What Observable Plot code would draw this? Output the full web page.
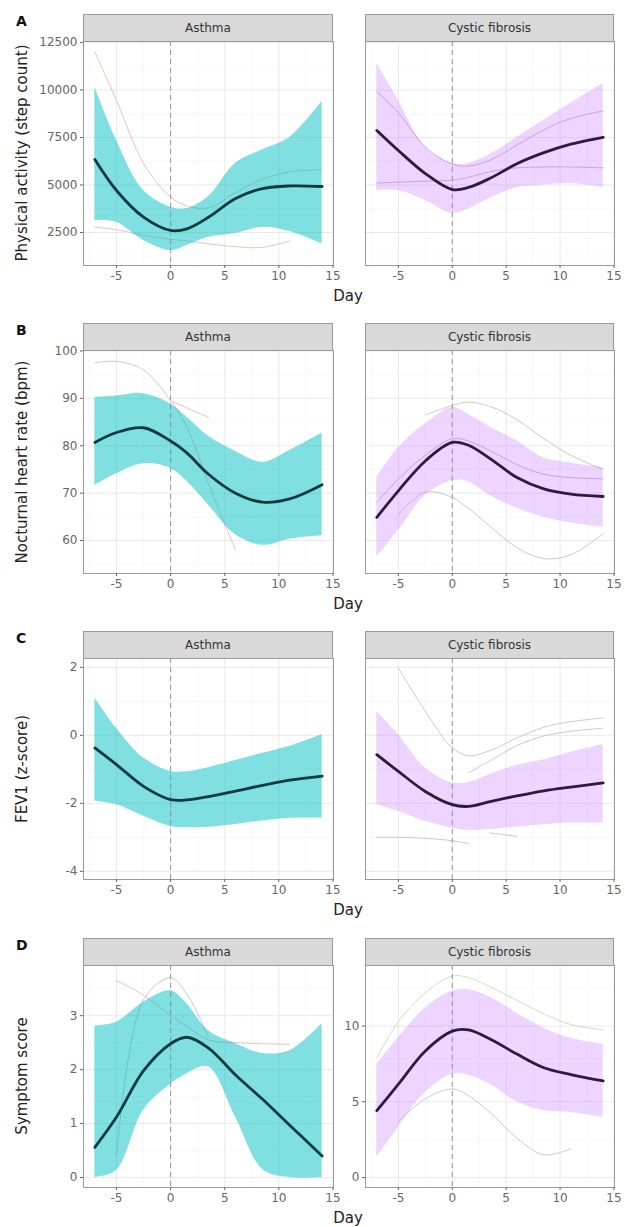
<!DOCTYPE html>
<html><head><meta charset="utf-8">
<script src="https://cdn.jsdelivr.net/npm/d3@7"></script>
<script src="https://cdn.jsdelivr.net/npm/@observablehq/plot@0.6"></script>
<style>
body{margin:0;background:#fff;font-family:"DejaVu Sans",sans-serif;}
#root{position:relative;width:625px;height:1227px;overflow:hidden;background:#fff;}
#root svg{position:absolute;overflow:visible;}
.strip{position:absolute;background:#d9d9d9;border:1px solid #9a9a9a;border-bottom:1.5px solid #3a3a3a;box-sizing:border-box;font-size:12px;color:#333;display:flex;align-items:center;justify-content:center;}
.ytitle{position:absolute;font-size:15px;color:#222;white-space:nowrap;transform:translate(-50%,-50%) rotate(-90deg);}
.xtitle{position:absolute;font-size:15px;color:#222;white-space:nowrap;transform:translate(-50%,-50%);}
.letter{position:absolute;font-weight:bold;font-size:14px;color:#111;transform:translate(0,-50%);}
</style>
</head><body>
<div id="root"></div>
<script>
// ---------------- data ----------------
const days = [-7, -5, -2.5, 0, 1.5, 3.5, 6, 8.5, 11, 14];
const groups = ["Asthma", "Cystic fibrosis"];
const panelLetters = ["A", "B", "C", "D"];
const yTitles = ["Physical activity (step count)", "Nocturnal heart rate (bpm)", "FEV1 (z-score)", "Symptom score"];
const xTitle = "Day";
const xTicks = [-5, 0, 5, 10, 15];
const xMinor = [-7.5, -2.5, 2.5, 7.5, 12.5];

// A: physical activity
const stepsTicks = [2500, 5000, 7500, 10000, 12500];
const stepsMinor = [1250, 3750, 6250, 8750, 11250];
const stepsAsthmaMean = [6340, 4710, 3305, 2605, 2690, 3300, 4290, 4810, 4950, 4920];
const stepsAsthmaHi   = [10150, 7340, 4710, 3830, 3760, 4400, 6150, 6850, 7500, 9400];
const stepsAsthmaLo   = [3130, 3040, 2080, 1550, 1815, 2250, 2450, 2780, 2550, 1900];
const stepsAsthmaInd1 = [11990, 9450, 6130, 4360, 3900, 3800, 4600, 5300, 5700, 5800];
const stepsAsthmaInd2 = [2780, 2650, 2350, 2150, 2050, 1900, 1750, 1720, 2050, null];
const stepsCfMean = [7870, 6815, 5600, 4760, 4870, 5350, 6120, 6700, 7150, 7510];
const stepsCfHi   = [11390, 9450, 6990, 6130, 6130, 6600, 7500, 8400, 9300, 10340];
const stepsCfLo   = [4710, 4710, 4180, 3500, 3730, 4300, 4850, 5000, 5080, 4870];
const stepsCfInd1 = [9900, 8800, 7000, 6100, 6000, 6300, 7100, 7900, 8500, 8900];
const stepsCfInd2 = [5100, 5150, 5200, 5250, 5400, 5700, 5900, 5950, 5950, 5900];

// B: nocturnal heart rate
const hrTicks = [60, 70, 80, 90, 100];
const hrMinor = [55, 65, 75, 85, 95];
const hrAsthmaMean = [80.7, 82.8, 83.8, 81.0, 78.5, 74.0, 70.0, 68.1, 68.8, 71.8];
const hrAsthmaHi   = [90.2, 90.5, 91.0, 88.8, 86.0, 82.0, 78.8, 76.5, 79.0, 82.7];
const hrAsthmaLo   = [71.6, 74.1, 76.2, 75.2, 72.5, 67.5, 61.2, 59.0, 60.3, 61.0];
const hrAsthmaInd1 = [97.5, 97.8, 96.0, 89.5, 84.0, 72.0, 58.0, null, null, null];
const hrAsthmaInd2 = [null, null, null, 89.5, 88.0, 86.0, null, null, null, null];
const hrCfMean = [64.9, 70.5, 76.8, 80.7, 80.1, 77.3, 73.3, 70.9, 69.8, 69.3];
const hrCfHi   = [73.3, 79.6, 84.6, 88.1, 86.6, 84.0, 81.0, 77.4, 76.3, 75.4];
const hrCfLo   = [56.5, 62.1, 69.5, 72.6, 72.4, 69.5, 66.8, 64.9, 63.7, 62.8];
const hrCfInd1 = [null, null, 86.5, 88.5, 89.2, 88.3, 85.5, 81.5, 78.0, 75.0];
const hrCfInd2 = [null, 65.5, 70.2, 69.1, 66.8, 63.0, 58.5, 56.2, 57.0, 61.4];
const hrCfInd3 = [68.0, 73.0, 78.0, 81.5, 81.0, 79.0, 76.0, 74.0, 73.3, 73.0];

// C: FEV1
const fevTicks = [-4, -2, 0, 2];
const fevMinor = [-3, -1, 1];
const fevAsthmaMean = [-0.37, -0.86, -1.5, -1.89, -1.9, -1.8, -1.64, -1.47, -1.32, -1.2];
const fevAsthmaHi   = [1.1, 0.21, -0.67, -1.06, -1.07, -0.95, -0.74, -0.53, -0.32, 0.02];
const fevAsthmaLo   = [-1.94, -2.04, -2.38, -2.68, -2.72, -2.7, -2.62, -2.52, -2.44, -2.43];
const fevCfMean = [-0.57, -1.06, -1.65, -2.04, -2.09, -1.95, -1.78, -1.63, -1.52, -1.4];
const fevCfHi   = [0.71, 0.02, -0.96, -1.4, -1.38, -1.15, -0.88, -0.72, -0.5, -0.27];
const fevCfLo   = [-2.04, -2.24, -2.53, -2.73, -2.8, -2.77, -2.7, -2.63, -2.58, -2.58];
const fevCfInd1 = [null, 1.98, 0.71, -0.37, -0.6, -0.45, -0.08, 0.24, 0.4, 0.51];
const fevCfInd2 = [null, null, null, null, -1.1, -0.75, -0.3, -0.02, 0.12, 0.21];
const fevCfInd3 = [-3.0, -3.0, -3.03, -3.1, -3.18, null, null, null, null, null];
const fevCfInd4 = [null, null, null, null, null, -2.87, -2.97, null, null, null];

// D: symptom score
const symAsthmaTicks = [0, 1, 2, 3];
const symAsthmaMinor = [0.5, 1.5, 2.5, 3.5];
const symCfTicks = [0, 5, 10];
const symCfMinor = [2.5, 7.5, 12.5];
const symAsthmaMean = [0.56, 1.12, 1.98, 2.48, 2.6, 2.4, 1.9, 1.45, 0.97, 0.4];
const symAsthmaHi   = [2.81, 2.88, 3.25, 3.46, 3.22, 2.72, 2.48, 2.3, 2.35, 2.85];
const symAsthmaLo   = [0, 0.13, 1.25, 1.73, 1.92, 2.05, 1.12, 0.15, 0, 0];
const symAsthmaInd1 = [null, 3.65, 3.38, 3.0, 2.8, 2.55, 2.5, 2.48, 2.47, null];
const symAsthmaInd2 = [null, 0.4, 3.3, 3.7, 3.4, 2.6, null, null, null, null];
const symCfMean = [4.41, 6.16, 8.36, 9.67, 9.75, 9.15, 8.15, 7.25, 6.8, 6.38];
const symCfHi   = [7.48, 9.23, 11.2, 12.3, 12.4, 11.9, 10.85, 9.86, 9.2, 8.8];
const symCfLo   = [1.34, 3.31, 5.61, 6.82, 6.75, 6.15, 5.0, 4.41, 4.3, 3.97];
const symCfInd1 = [7.9, 10.3, 12.2, 13.3, 13.2, 12.6, 11.7, 10.8, 10.1, 9.75];
const symCfInd2 = [null, 3.7, 5.2, 5.85, 5.4, 4.3, 2.6, 1.5, 1.9, null];

// ---------------- styles / layout ----------------
const asthmaFill = "#00BFC4", cfFill = "#C77CFF";
const asthmaLine = "#0d3a3f", cfLine = "#2c1a42";
const indPink = "#e3a9a9", indGray = "#b5b5b5", indGreen = "#c4cfa6", indPurple = "#b58fd6";
const curve = "catmull-rom";

const rows = [
  {top: 14, ph: 224, yDomain: [[763, 12550], [763, 12550]], ticks: [stepsTicks, stepsTicks], minor: [stepsMinor, stepsMinor], showY: [true, false],
   panels: [
     {mean: stepsAsthmaMean, lo: stepsAsthmaLo, hi: stepsAsthmaHi, inds: [[stepsAsthmaInd1, indPink], [stepsAsthmaInd2, indPink]]},
     {mean: stepsCfMean, lo: stepsCfLo, hi: stepsCfHi, inds: [[stepsCfInd1, indPurple], [stepsCfInd2, indPurple]]}]},
  {top: 323, ph: 223, yDomain: [[53.05, 100.1], [53.05, 100.1]], ticks: [hrTicks, hrTicks], minor: [hrMinor, hrMinor], showY: [true, false],
   panels: [
     {mean: hrAsthmaMean, lo: hrAsthmaLo, hi: hrAsthmaHi, inds: [[hrAsthmaInd1, indPink], [hrAsthmaInd2, indPink]]},
     {mean: hrCfMean, lo: hrCfLo, hi: hrCfHi, inds: [[hrCfInd1, indGray], [hrCfInd2, indGray], [hrCfInd3, indPurple]]}]},
  {top: 631, ph: 221, yDomain: [[-4.24, 2.26], [-4.24, 2.26]], ticks: [fevTicks, fevTicks], minor: [fevMinor, fevMinor], showY: [true, false],
   panels: [
     {mean: fevAsthmaMean, lo: fevAsthmaLo, hi: fevAsthmaHi, inds: []},
     {mean: fevCfMean, lo: fevCfLo, hi: fevCfHi, inds: [[fevCfInd1, indGray], [fevCfInd2, indGray], [fevCfInd3, indGray], [fevCfInd4, indGray]]}]},
  {top: 938, ph: 222, yDomain: [[-0.185, 3.93], [-0.66, 14.0]], ticks: [symAsthmaTicks, symCfTicks], minor: [symAsthmaMinor, symCfMinor], showY: [true, true],
   panels: [
     {mean: symAsthmaMean, lo: symAsthmaLo, hi: symAsthmaHi, inds: [[symAsthmaInd1, indPink], [symAsthmaInd2, indGray]]},
     {mean: symCfMean, lo: symCfLo, hi: symCfHi, inds: [[symCfInd1, indGreen], [symCfInd2, indGray]]}]}
];

const panelX = [{left: 83, w: 250}, {left: 365, w: 249}];
const stripH = 27;
const ml = 60, mr = 6, mb = 30;
const root = document.getElementById("root");
const fmt = d => String(d);

function el(cls, text, css) {
  const d = document.createElement("div");
  d.className = cls; d.textContent = text;
  Object.assign(d.style, css);
  root.appendChild(d);
  return d;
}

rows.forEach((row, r) => {
  const panelTop = row.top + stripH;
  el("letter", panelLetters[r], {left: "16px", top: (row.top + 7) + "px"});
  el("ytitle", yTitles[r], {left: "22px", top: (panelTop + row.ph / 2) + "px"});
  el("xtitle", xTitle, {left: "348px", top: (panelTop + row.ph + 31) + "px"});
  row.panels.forEach((p, g) => {
    const {left, w} = panelX[g];
    el("strip", groups[g], {left: left + "px", top: row.top + "px", width: w + "px", height: (stripH + 1) + "px"});
    const band = days.map((d, i) => ({day: d, lo: p.lo[i], hi: p.hi[i], mean: p.mean[i]}));
    const isA = g === 0;
    const marks = [
      Plot.ruleX(xMinor, {stroke: "#f3f3f3", strokeWidth: 0.6}),
      Plot.ruleY(row.minor[g], {stroke: "#f3f3f3", strokeWidth: 0.6}),
      Plot.ruleX(xTicks, {stroke: "#e6e6e6", strokeWidth: 0.9}),
      Plot.ruleY(row.ticks[g], {stroke: "#e6e6e6", strokeWidth: 0.9}),
      ...p.inds.map(([vals, col]) => Plot.line(days.map((d, i) => ({day: d, v: vals[i]})),
        {x: "day", y: "v", stroke: col, strokeWidth: 0.9, strokeOpacity: 0.8, curve})),
      Plot.areaY(band, {x: "day", y1: "lo", y2: "hi", fill: isA ? asthmaFill : cfFill, fillOpacity: isA ? 0.5 : 0.32, curve}),
      Plot.ruleX([0], {stroke: "#8c8c8c", strokeWidth: 0.9, strokeDasharray: "5,4"}),
      Plot.line(band, {x: "day", y: "mean", stroke: isA ? asthmaLine : cfLine, strokeWidth: 2.8, curve}),
      Plot.frame({stroke: "#9a9a9a", strokeWidth: 1}),
      Plot.axisX({ticks: xTicks, tickFormat: fmt, tickSize: 3, tickPadding: 3, fontSize: 12, color: "#666", label: null})
    ];
    if (row.showY[g]) marks.push(Plot.axisY({ticks: row.ticks[g], tickFormat: fmt, tickSize: 3, tickPadding: 3, fontSize: 12, color: "#666", label: null}));
    const chart = Plot.plot({
      width: w + ml + mr, height: row.ph + mb,
      marginLeft: ml, marginRight: mr, marginTop: 0, marginBottom: mb,
      clip: true,
      style: {fontFamily: "DejaVu Sans, sans-serif", background: "transparent", overflow: "visible"},
      x: {domain: [-8.05, 15.05], axis: null},
      y: {domain: row.yDomain[g], axis: null},
      marks
    });
    chart.style.left = (left - ml) + "px";
    chart.style.top = panelTop + "px";
    root.appendChild(chart);
  });
});
</script>
</body></html>
